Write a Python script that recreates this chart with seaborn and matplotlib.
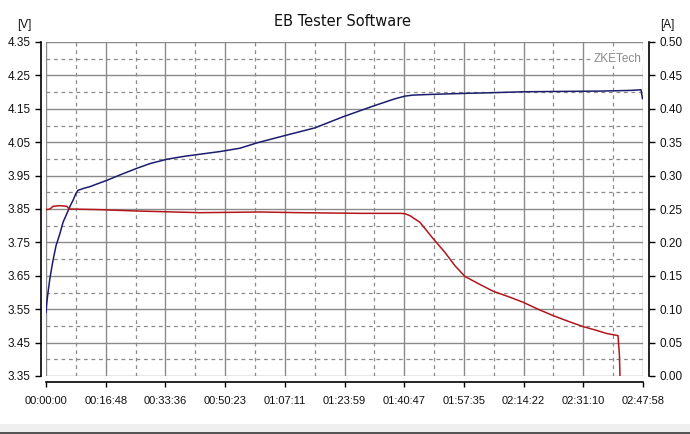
import numpy as np
import pandas as pd
import matplotlib
matplotlib.use("Agg")
import matplotlib.pyplot as plt
import seaborn as sns
from matplotlib.patches import Rectangle

# ---------------- data ----------------
time_labels = ["00:00:00", "00:16:48", "00:33:36", "00:50:23", "01:07:11", "01:23:59",
               "01:40:47", "01:57:35", "02:14:22", "02:31:10", "02:47:58"]

volt_t = [0, 12, 34, 68, 118, 169, 236, 287, 354, 405, 456, 506, 540, 641, 743, 878,
          1030, 1249, 1536, 1756, 2042, 2346, 2600, 2937, 3275, 3562, 4034, 4541, 5013,
          5520, 5891, 6060, 6195, 6482, 7039, 7495, 8052, 8677, 9352, 9858, 10044, 10070]
volt_v = [3.54, 3.567, 3.60, 3.645, 3.696, 3.74, 3.777, 3.81, 3.837, 3.858, 3.876, 3.897,
          3.906, 3.912, 3.917, 3.926, 3.936, 3.952, 3.972, 3.986, 3.999, 4.008, 4.014,
          4.022, 4.032, 4.048, 4.07, 4.093, 4.126, 4.158, 4.180, 4.188, 4.191, 4.193,
          4.196, 4.198, 4.201, 4.202, 4.203, 4.205, 4.207, 4.18]

curr_t = [0, 68, 118, 236, 354, 388, 912, 1536, 2600, 3613, 4287, 5300, 5976, 6060, 6144,
          6313, 6532, 6735, 6904, 7072, 7326, 7545, 7799, 8052, 8305, 8558, 8812, 9065,
          9267, 9470, 9656, 9681, 9689]
curr_a = [0.249, 0.250, 0.254, 0.255, 0.254, 0.250, 0.249, 0.247, 0.2445, 0.2455, 0.2445,
          0.2435, 0.2435, 0.243, 0.240, 0.230, 0.206, 0.185, 0.165, 0.149, 0.137, 0.127,
          0.119, 0.1105, 0.100, 0.0905, 0.082, 0.074, 0.069, 0.0635, 0.0605, 0.03, 0.0]

v_ticks = [3.35, 3.45, 3.55, 3.65, 3.75, 3.85, 3.95, 4.05, 4.15, 4.25, 4.35]
a_ticks = [0.00, 0.05, 0.10, 0.15, 0.20, 0.25, 0.30, 0.35, 0.40, 0.45, 0.50]


def to_sec(s):
    h, m, x = (int(p) for p in s.split(":"))
    return h * 3600 + m * 60 + x


tick_sec = [to_sec(s) for s in time_labels]

df_v = pd.DataFrame({"t": volt_t, "v": volt_v})
df_a = pd.DataFrame({"t": curr_t, "a": curr_a})

# ---------------- style ----------------
sns.set_theme(style="white")
plt.rcParams["font.family"] = ["Liberation Sans", "DejaVu Sans"]

W, H = 690, 434
fig = plt.figure(figsize=(W / 100, H / 100), dpi=100)
fig.patch.set_facecolor("white")
L, R, T, B = 46, 643, 42, 376
ax = fig.add_axes([L / W, 1 - B / H, (R - L) / W, (B - T) / H])
ax.set_facecolor("white")

grid_col = "#8a8a8a"
sns.lineplot(data=df_v, x="t", y="v", ax=ax, color="#1c1c6e", linewidth=1.1,
             estimator=None, sort=False, zorder=5)
ax.set_xlim(tick_sec[0], tick_sec[-1])
ax.set_ylim(v_ticks[0], v_ticks[-1])
ax.set_xticks(tick_sec)
ax.set_xticklabels(time_labels)
ax.set_yticks(v_ticks)
ax.set_yticklabels([f"{v:.2f}" for v in v_ticks])
mid_x = [(a + b) / 2 for a, b in zip(tick_sec[:-1], tick_sec[1:])]
mid_y = [(a + b) / 2 for a, b in zip(v_ticks[:-1], v_ticks[1:])]
ax.set_xticks(mid_x, minor=True)
ax.set_yticks(mid_y, minor=True)
ax.set_xlabel("")
ax.set_ylabel("")

ax.grid(True, which="major", color=grid_col, linewidth=1.0, linestyle="-")
ax.grid(True, which="minor", color=grid_col, linewidth=0.9, linestyle=(0, (3, 3)))
for gl in ax.get_xgridlines() + ax.get_ygridlines():
    gl.set_clip_on(False)
ax.set_axisbelow(True)

ax2 = ax.twinx()
sns.lineplot(data=df_a, x="t", y="a", ax=ax2, color="#b2161c", linewidth=1.1,
             estimator=None, sort=False, zorder=5)
ax2.set_ylim(a_ticks[0], a_ticks[-1])
ax2.set_yticks(a_ticks)
ax2.set_yticklabels([f"{v:.2f}" for v in a_ticks])
ax2.set_ylabel("")
ax2.grid(False)

# spines
for a in (ax, ax2):
    for s in a.spines.values():
        s.set_visible(False)
ax.spines["left"].set_visible(True)
ax.spines["left"].set_position(("outward", 3.6))
ax.spines["bottom"].set_visible(True)
ax.spines["bottom"].set_position(("outward", 4.3))
ax2.spines["right"].set_visible(True)
ax2.spines["right"].set_position(("outward", 4.3))
for s in (ax.spines["left"], ax.spines["bottom"], ax2.spines["right"]):
    s.set_color("black")
    s.set_linewidth(1.2)

ax.tick_params(axis="y", which="major", direction="out", length=4, width=1,
               color="black", labelsize=8.5, pad=3.5, left=True, labelcolor="#111111")
ax.tick_params(axis="x", which="major", direction="out", length=3.5, width=1,
               color="black", labelsize=8, pad=6.5, bottom=True, labelcolor="#111111")
ax.tick_params(which="minor", length=0)
ax2.tick_params(axis="y", which="major", direction="out", length=4, width=1,
                color="black", labelsize=8.5, pad=3.5, right=True, labelcolor="#111111")
ax2.tick_params(which="minor", length=0)

# texts
fig.text(343 / W, 1 - 21.5 / H, "EB Tester Software", ha="center", va="center",
         fontsize=10.5, color="#111111", family="DejaVu Sans")
fig.text(24 / W, 1 - 25 / H, "[V]", ha="center", va="center", fontsize=8.5, color="#111111")
fig.text(667 / W, 1 - 25 / H, "[A]", ha="center", va="center", fontsize=8.5, color="#111111")
ax2.text(0.957, 0.475, "ZKETech", transform=ax2.get_yaxis_transform(), ha="center",
         va="center", fontsize=8.5, color="#8a8a8a", zorder=6,
         bbox=dict(facecolor="white", edgecolor="none", pad=1.0))

# bottom window strip
fig.patches.append(Rectangle((0, 0), 1, 10 / H, transform=fig.transFigure,
                             facecolor="#efefef", edgecolor="none", zorder=0))
fig.patches.append(Rectangle((0, 0), 1, 2 / H, transform=fig.transFigure,
                             facecolor="#555555", edgecolor="none", zorder=0))

fig.savefig("out.png", dpi=100, facecolor="white")
